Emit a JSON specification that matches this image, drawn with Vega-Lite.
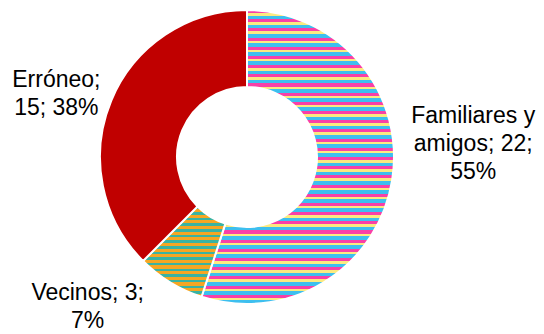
{
  "$schema": "https://vega.github.io/schema/vega-lite/v6.json",
  "width": 494,
  "height": 314,
  "autosize": {"type": "none"},
  "padding": {"left": 0, "top": 0, "right": 50, "bottom": 20},
  "background": "white",
  "config": {"view": {"stroke": null}},
  "data": {
    "values": [
      {"i": 1, "cat": "Familiares y amigos", "n": 22, "label": "Familiares y\namigos; 22;\n55%"},
      {"i": 2, "cat": "Vecinos", "n": 3, "label": "Vecinos; 3;\n7%"},
      {"i": 3, "cat": "Erróneo", "n": 15, "label": "Erróneo;\n15; 38%"}
    ]
  },
  "encoding": {
    "theta": {"field": "n", "type": "quantitative", "stack": true},
    "order": {"field": "i", "type": "quantitative", "sort": "ascending"}
  },
  "layer": [
    {
      "mark": {"type": "arc", "innerRadius": 70, "outerRadius": 147, "stroke": "white", "strokeWidth": 2},
      "encoding": {
        "fill": {
          "condition": [
            {
              "test": "datum.cat === 'Familiares y amigos'",
              "value": {
                "gradient": "linear", "x1": 0, "y1": 0, "x2": 0, "y2": 1,
                "stops": [
                  {"offset": 0, "color": "#F840A8"}, {"offset": 0.0103, "color": "#F840A8"}, {"offset": 0.0103, "color": "#FBEA80"}, {"offset": 0.01875, "color": "#FBEA80"}, {"offset": 0.01875, "color": "#3DBFEF"}, {"offset": 0.03125, "color": "#3DBFEF"},
                  {"offset": 0.03125, "color": "#F840A8"}, {"offset": 0.04155, "color": "#F840A8"}, {"offset": 0.04155, "color": "#FBEA80"}, {"offset": 0.05, "color": "#FBEA80"}, {"offset": 0.05, "color": "#3DBFEF"}, {"offset": 0.0625, "color": "#3DBFEF"},
                  {"offset": 0.0625, "color": "#F840A8"}, {"offset": 0.0728, "color": "#F840A8"}, {"offset": 0.0728, "color": "#FBEA80"}, {"offset": 0.08125, "color": "#FBEA80"}, {"offset": 0.08125, "color": "#3DBFEF"}, {"offset": 0.09375, "color": "#3DBFEF"},
                  {"offset": 0.09375, "color": "#F840A8"}, {"offset": 0.10405, "color": "#F840A8"}, {"offset": 0.10405, "color": "#FBEA80"}, {"offset": 0.1125, "color": "#FBEA80"}, {"offset": 0.1125, "color": "#3DBFEF"}, {"offset": 0.125, "color": "#3DBFEF"},
                  {"offset": 0.125, "color": "#F840A8"}, {"offset": 0.1353, "color": "#F840A8"}, {"offset": 0.1353, "color": "#FBEA80"}, {"offset": 0.14375, "color": "#FBEA80"}, {"offset": 0.14375, "color": "#3DBFEF"}, {"offset": 0.15625, "color": "#3DBFEF"},
                  {"offset": 0.15625, "color": "#F840A8"}, {"offset": 0.16655, "color": "#F840A8"}, {"offset": 0.16655, "color": "#FBEA80"}, {"offset": 0.175, "color": "#FBEA80"}, {"offset": 0.175, "color": "#3DBFEF"}, {"offset": 0.1875, "color": "#3DBFEF"},
                  {"offset": 0.1875, "color": "#F840A8"}, {"offset": 0.1978, "color": "#F840A8"}, {"offset": 0.1978, "color": "#FBEA80"}, {"offset": 0.20625, "color": "#FBEA80"}, {"offset": 0.20625, "color": "#3DBFEF"}, {"offset": 0.21875, "color": "#3DBFEF"},
                  {"offset": 0.21875, "color": "#F840A8"}, {"offset": 0.22905, "color": "#F840A8"}, {"offset": 0.22905, "color": "#FBEA80"}, {"offset": 0.2375, "color": "#FBEA80"}, {"offset": 0.2375, "color": "#3DBFEF"}, {"offset": 0.25, "color": "#3DBFEF"},
                  {"offset": 0.25, "color": "#F840A8"}, {"offset": 0.2603, "color": "#F840A8"}, {"offset": 0.2603, "color": "#FBEA80"}, {"offset": 0.26875, "color": "#FBEA80"}, {"offset": 0.26875, "color": "#3DBFEF"}, {"offset": 0.28125, "color": "#3DBFEF"},
                  {"offset": 0.28125, "color": "#F840A8"}, {"offset": 0.29155, "color": "#F840A8"}, {"offset": 0.29155, "color": "#FBEA80"}, {"offset": 0.3, "color": "#FBEA80"}, {"offset": 0.3, "color": "#3DBFEF"}, {"offset": 0.3125, "color": "#3DBFEF"},
                  {"offset": 0.3125, "color": "#F840A8"}, {"offset": 0.3228, "color": "#F840A8"}, {"offset": 0.3228, "color": "#FBEA80"}, {"offset": 0.33125, "color": "#FBEA80"}, {"offset": 0.33125, "color": "#3DBFEF"}, {"offset": 0.34375, "color": "#3DBFEF"},
                  {"offset": 0.34375, "color": "#F840A8"}, {"offset": 0.35405, "color": "#F840A8"}, {"offset": 0.35405, "color": "#FBEA80"}, {"offset": 0.3625, "color": "#FBEA80"}, {"offset": 0.3625, "color": "#3DBFEF"}, {"offset": 0.375, "color": "#3DBFEF"},
                  {"offset": 0.375, "color": "#F840A8"}, {"offset": 0.3853, "color": "#F840A8"}, {"offset": 0.3853, "color": "#FBEA80"}, {"offset": 0.39375, "color": "#FBEA80"}, {"offset": 0.39375, "color": "#3DBFEF"}, {"offset": 0.40625, "color": "#3DBFEF"},
                  {"offset": 0.40625, "color": "#F840A8"}, {"offset": 0.41655, "color": "#F840A8"}, {"offset": 0.41655, "color": "#FBEA80"}, {"offset": 0.425, "color": "#FBEA80"}, {"offset": 0.425, "color": "#3DBFEF"}, {"offset": 0.4375, "color": "#3DBFEF"},
                  {"offset": 0.4375, "color": "#F840A8"}, {"offset": 0.4478, "color": "#F840A8"}, {"offset": 0.4478, "color": "#FBEA80"}, {"offset": 0.45625, "color": "#FBEA80"}, {"offset": 0.45625, "color": "#3DBFEF"}, {"offset": 0.46875, "color": "#3DBFEF"},
                  {"offset": 0.46875, "color": "#F840A8"}, {"offset": 0.47905, "color": "#F840A8"}, {"offset": 0.47905, "color": "#FBEA80"}, {"offset": 0.4875, "color": "#FBEA80"}, {"offset": 0.4875, "color": "#3DBFEF"}, {"offset": 0.5, "color": "#3DBFEF"},
                  {"offset": 0.5, "color": "#F840A8"}, {"offset": 0.5103, "color": "#F840A8"}, {"offset": 0.5103, "color": "#FBEA80"}, {"offset": 0.51875, "color": "#FBEA80"}, {"offset": 0.51875, "color": "#3DBFEF"}, {"offset": 0.53125, "color": "#3DBFEF"},
                  {"offset": 0.53125, "color": "#F840A8"}, {"offset": 0.54155, "color": "#F840A8"}, {"offset": 0.54155, "color": "#FBEA80"}, {"offset": 0.55, "color": "#FBEA80"}, {"offset": 0.55, "color": "#3DBFEF"}, {"offset": 0.5625, "color": "#3DBFEF"},
                  {"offset": 0.5625, "color": "#F840A8"}, {"offset": 0.5728, "color": "#F840A8"}, {"offset": 0.5728, "color": "#FBEA80"}, {"offset": 0.58125, "color": "#FBEA80"}, {"offset": 0.58125, "color": "#3DBFEF"}, {"offset": 0.59375, "color": "#3DBFEF"},
                  {"offset": 0.59375, "color": "#F840A8"}, {"offset": 0.60405, "color": "#F840A8"}, {"offset": 0.60405, "color": "#FBEA80"}, {"offset": 0.6125, "color": "#FBEA80"}, {"offset": 0.6125, "color": "#3DBFEF"}, {"offset": 0.625, "color": "#3DBFEF"},
                  {"offset": 0.625, "color": "#F840A8"}, {"offset": 0.6353, "color": "#F840A8"}, {"offset": 0.6353, "color": "#FBEA80"}, {"offset": 0.64375, "color": "#FBEA80"}, {"offset": 0.64375, "color": "#3DBFEF"}, {"offset": 0.65625, "color": "#3DBFEF"},
                  {"offset": 0.65625, "color": "#F840A8"}, {"offset": 0.66655, "color": "#F840A8"}, {"offset": 0.66655, "color": "#FBEA80"}, {"offset": 0.675, "color": "#FBEA80"}, {"offset": 0.675, "color": "#3DBFEF"}, {"offset": 0.6875, "color": "#3DBFEF"},
                  {"offset": 0.6875, "color": "#F840A8"}, {"offset": 0.6978, "color": "#F840A8"}, {"offset": 0.6978, "color": "#FBEA80"}, {"offset": 0.70625, "color": "#FBEA80"}, {"offset": 0.70625, "color": "#3DBFEF"}, {"offset": 0.71875, "color": "#3DBFEF"},
                  {"offset": 0.71875, "color": "#F840A8"}, {"offset": 0.72905, "color": "#F840A8"}, {"offset": 0.72905, "color": "#FBEA80"}, {"offset": 0.7375, "color": "#FBEA80"}, {"offset": 0.7375, "color": "#3DBFEF"}, {"offset": 0.75, "color": "#3DBFEF"},
                  {"offset": 0.75, "color": "#F840A8"}, {"offset": 0.7603, "color": "#F840A8"}, {"offset": 0.7603, "color": "#FBEA80"}, {"offset": 0.76875, "color": "#FBEA80"}, {"offset": 0.76875, "color": "#3DBFEF"}, {"offset": 0.78125, "color": "#3DBFEF"},
                  {"offset": 0.78125, "color": "#F840A8"}, {"offset": 0.79155, "color": "#F840A8"}, {"offset": 0.79155, "color": "#FBEA80"}, {"offset": 0.8, "color": "#FBEA80"}, {"offset": 0.8, "color": "#3DBFEF"}, {"offset": 0.8125, "color": "#3DBFEF"},
                  {"offset": 0.8125, "color": "#F840A8"}, {"offset": 0.8228, "color": "#F840A8"}, {"offset": 0.8228, "color": "#FBEA80"}, {"offset": 0.83125, "color": "#FBEA80"}, {"offset": 0.83125, "color": "#3DBFEF"}, {"offset": 0.84375, "color": "#3DBFEF"},
                  {"offset": 0.84375, "color": "#F840A8"}, {"offset": 0.85405, "color": "#F840A8"}, {"offset": 0.85405, "color": "#FBEA80"}, {"offset": 0.8625, "color": "#FBEA80"}, {"offset": 0.8625, "color": "#3DBFEF"}, {"offset": 0.875, "color": "#3DBFEF"},
                  {"offset": 0.875, "color": "#F840A8"}, {"offset": 0.8853, "color": "#F840A8"}, {"offset": 0.8853, "color": "#FBEA80"}, {"offset": 0.89375, "color": "#FBEA80"}, {"offset": 0.89375, "color": "#3DBFEF"}, {"offset": 0.90625, "color": "#3DBFEF"},
                  {"offset": 0.90625, "color": "#F840A8"}, {"offset": 0.91655, "color": "#F840A8"}, {"offset": 0.91655, "color": "#FBEA80"}, {"offset": 0.925, "color": "#FBEA80"}, {"offset": 0.925, "color": "#3DBFEF"}, {"offset": 0.9375, "color": "#3DBFEF"},
                  {"offset": 0.9375, "color": "#F840A8"}, {"offset": 0.9478, "color": "#F840A8"}, {"offset": 0.9478, "color": "#FBEA80"}, {"offset": 0.95625, "color": "#FBEA80"}, {"offset": 0.95625, "color": "#3DBFEF"}, {"offset": 0.96875, "color": "#3DBFEF"},
                  {"offset": 0.96875, "color": "#F840A8"}, {"offset": 0.97905, "color": "#F840A8"}, {"offset": 0.97905, "color": "#FBEA80"}, {"offset": 0.9875, "color": "#FBEA80"}, {"offset": 0.9875, "color": "#3DBFEF"}, {"offset": 1, "color": "#3DBFEF"}
                ]
              }
            },
            {
              "test": "datum.cat === 'Vecinos'",
              "value": {
                "gradient": "linear", "x1": 0, "y1": 0, "x2": 0, "y2": 1,
                "stops": [
                  {"offset": 0, "color": "#3AB3A2"}, {"offset": 0.028, "color": "#3AB3A2"}, {"offset": 0.028, "color": "#F6A623"}, {"offset": 0.0625, "color": "#F6A623"},
                  {"offset": 0.0625, "color": "#3AB3A2"}, {"offset": 0.0905, "color": "#3AB3A2"}, {"offset": 0.0905, "color": "#F6A623"}, {"offset": 0.125, "color": "#F6A623"},
                  {"offset": 0.125, "color": "#3AB3A2"}, {"offset": 0.153, "color": "#3AB3A2"}, {"offset": 0.153, "color": "#F6A623"}, {"offset": 0.1875, "color": "#F6A623"},
                  {"offset": 0.1875, "color": "#3AB3A2"}, {"offset": 0.2155, "color": "#3AB3A2"}, {"offset": 0.2155, "color": "#F6A623"}, {"offset": 0.25, "color": "#F6A623"},
                  {"offset": 0.25, "color": "#3AB3A2"}, {"offset": 0.278, "color": "#3AB3A2"}, {"offset": 0.278, "color": "#F6A623"}, {"offset": 0.3125, "color": "#F6A623"},
                  {"offset": 0.3125, "color": "#3AB3A2"}, {"offset": 0.3405, "color": "#3AB3A2"}, {"offset": 0.3405, "color": "#F6A623"}, {"offset": 0.375, "color": "#F6A623"},
                  {"offset": 0.375, "color": "#3AB3A2"}, {"offset": 0.403, "color": "#3AB3A2"}, {"offset": 0.403, "color": "#F6A623"}, {"offset": 0.4375, "color": "#F6A623"},
                  {"offset": 0.4375, "color": "#3AB3A2"}, {"offset": 0.4655, "color": "#3AB3A2"}, {"offset": 0.4655, "color": "#F6A623"}, {"offset": 0.5, "color": "#F6A623"},
                  {"offset": 0.5, "color": "#3AB3A2"}, {"offset": 0.528, "color": "#3AB3A2"}, {"offset": 0.528, "color": "#F6A623"}, {"offset": 0.5625, "color": "#F6A623"},
                  {"offset": 0.5625, "color": "#3AB3A2"}, {"offset": 0.5905, "color": "#3AB3A2"}, {"offset": 0.5905, "color": "#F6A623"}, {"offset": 0.625, "color": "#F6A623"},
                  {"offset": 0.625, "color": "#3AB3A2"}, {"offset": 0.653, "color": "#3AB3A2"}, {"offset": 0.653, "color": "#F6A623"}, {"offset": 0.6875, "color": "#F6A623"},
                  {"offset": 0.6875, "color": "#3AB3A2"}, {"offset": 0.7155, "color": "#3AB3A2"}, {"offset": 0.7155, "color": "#F6A623"}, {"offset": 0.75, "color": "#F6A623"},
                  {"offset": 0.75, "color": "#3AB3A2"}, {"offset": 0.778, "color": "#3AB3A2"}, {"offset": 0.778, "color": "#F6A623"}, {"offset": 0.8125, "color": "#F6A623"},
                  {"offset": 0.8125, "color": "#3AB3A2"}, {"offset": 0.8405, "color": "#3AB3A2"}, {"offset": 0.8405, "color": "#F6A623"}, {"offset": 0.875, "color": "#F6A623"},
                  {"offset": 0.875, "color": "#3AB3A2"}, {"offset": 0.903, "color": "#3AB3A2"}, {"offset": 0.903, "color": "#F6A623"}, {"offset": 0.9375, "color": "#F6A623"},
                  {"offset": 0.9375, "color": "#3AB3A2"}, {"offset": 0.9655, "color": "#3AB3A2"}, {"offset": 0.9655, "color": "#F6A623"}, {"offset": 1, "color": "#F6A623"}
                ]
              }
            }
          ],
          "value": "#C00000"
        }
      }
    },
    {
      "mark": {"type": "text", "radius": 228, "dx": 1, "dy": -77, "fontSize": 23, "lineHeight": 28, "font": "Liberation Sans", "color": "#000000", "lineBreak": "\n", "align": "center", "baseline": "middle"},
      "encoding": {
        "text": {"condition": {"test": "datum.cat === 'Familiares y amigos'", "field": "label"}, "value": ""}
      }
    },
    {
      "mark": {"type": "text", "radius": 215, "dx": -47, "dy": -47, "fontSize": 23, "lineHeight": 28, "font": "Liberation Sans", "color": "#000000", "lineBreak": "\n", "align": "center", "baseline": "middle"},
      "encoding": {
        "text": {"condition": {"test": "datum.cat === 'Vecinos'", "field": "label"}, "value": ""}
      }
    },
    {
      "mark": {"type": "text", "radius": 202, "dx": -4, "dy": 0, "fontSize": 23, "lineHeight": 28, "font": "Liberation Sans", "color": "#000000", "lineBreak": "\n", "align": "center", "baseline": "middle"},
      "encoding": {
        "text": {"condition": {"test": "datum.cat === 'Erróneo'", "field": "label"}, "value": ""}
      }
    }
  ]
}
